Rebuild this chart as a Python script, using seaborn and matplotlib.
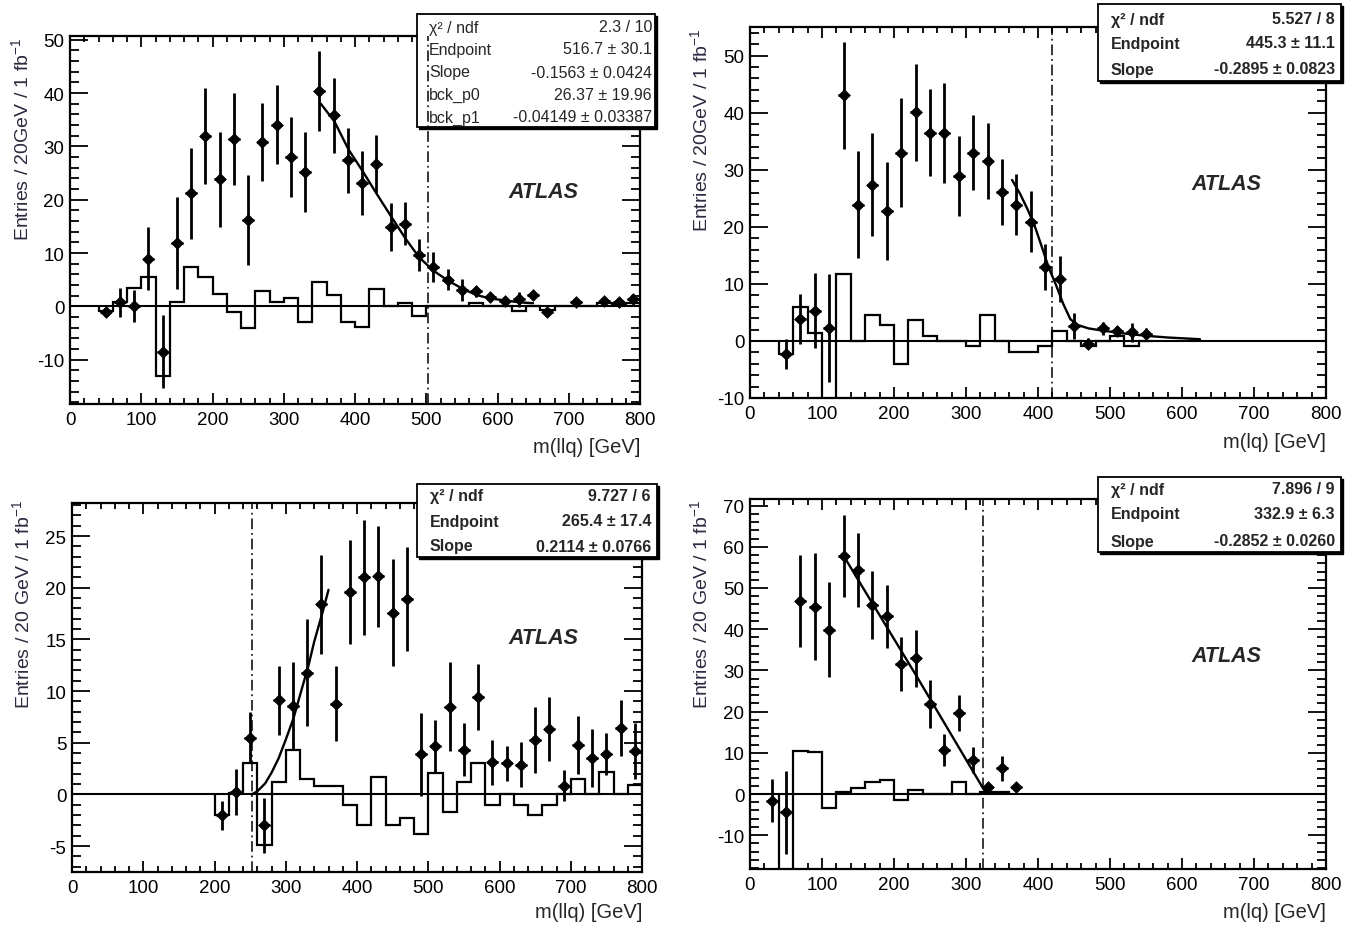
import numpy as np
import matplotlib
matplotlib.use("Agg")
import matplotlib.pyplot as plt
from matplotlib.ticker import MultipleLocator
from matplotlib.patches import Rectangle
import seaborn as sns

# ---- top left: m(llq) ----
p1_x = [50, 70, 90, 110, 130, 150, 170, 190, 210, 230, 250, 270, 290, 310, 330, 350, 370, 390,
        410, 430, 450, 470, 490, 510, 530, 550, 570, 590, 610, 630, 650, 670, 710, 750, 770, 790]
p1_y = [-1.0, 0.8, 0.0, 8.9, -8.5, 11.9, 21.2, 32.0, 23.8, 31.4, 16.2, 30.8, 34.1, 28.1, 25.2, 40.4,
        35.8, 27.4, 23.2, 26.7, 14.9, 15.5, 9.7, 7.4, 5.0, 3.1, 2.8, 1.7, 1.1, 1.3, 2.1, -1.1, 0.9,
        1.0, 0.9, 1.4]
p1_err = [0.8, 2.7, 3.0, 5.9, 6.8, 8.7, 8.5, 9.0, 8.9, 8.6, 8.5, 7.3, 7.4, 7.5, 7.5, 7.5, 7.1, 6.1,
          6.0, 5.5, 4.5, 4.0, 3.0, 2.8, 2.0, 2.0, 1.1, 0.6, 0.5, 1.4, 0.8, 0.5, 0.5, 0.5, 0.5, 0.7]
p1_hist_lo = 40
p1_hist = [-0.8, 0.8, 3.4, 5.6, -13.0, 0.8, 7.3, 5.6, 2.4, -1.0, -4.0, 2.8, 0.8, 1.6, -3.0, 4.6,
           2.2, -2.9, -3.9, 3.3, 0.0, 0.7, -1.8, 0.0, 0.0, 0.0, 0.7, 0.0, 0.0, -0.9, 0.0, -0.7,
           0.0, 0.0, 0.0, 0.6, 0.4, 0.6]
p1_fit_x = [352, 371, 391, 411, 430, 451, 471, 490, 510, 531, 551, 571, 590, 611, 632, 650]
p1_fit_y = [38.0, 34.7, 29.4, 25.3, 21.2, 16.8, 12.7, 9.2, 6.7, 4.8, 3.3, 2.1, 1.5, 1.1, 0.75, 0.6]
p1_end = 502
p1_stats = [("χ² / ndf", "2.3 / 10"), ("Endpoint", "516.7 ± 30.1"),
            ("Slope", "-0.1563 ± 0.0424"), ("bck_p0", "26.37 ± 19.96"),
            ("bck_p1", "-0.04149 ± 0.03387")]

# ---- top right: m(lq) ----
p2_x = [50, 70, 90, 110, 130, 150, 170, 190, 210, 230, 250, 270, 290, 310, 330, 350, 370, 390,
        410, 430, 450, 470, 490, 510, 530, 550]
p2_y = [-2.3, 3.8, 5.3, 2.3, 43.0, 23.9, 27.4, 22.8, 33.0, 40.1, 36.5, 36.4, 28.9, 33.0, 31.5,
        26.1, 23.9, 20.9, 12.9, 10.8, 2.6, -0.5, 2.2, 1.75, 1.5, 1.3]
p2_err = [2.6, 4.4, 6.6, 9.5, 9.4, 9.3, 9.0, 8.6, 9.6, 8.5, 7.6, 8.8, 7.0, 6.5, 6.7, 5.8, 5.3, 5.4,
          4.0, 4.0, 2.3, 1.0, 1.2, 0.9, 1.7, 1.0]
p2_hist_lo = 40
p2_hist = [-2.3, 6.0, 1.4, -15.0, 11.7, 0.0, 4.6, 2.8, -4.1, 3.7, 0.8, 0.0, 0.0, -0.9, 4.5, 0.0,
           -2.0, -2.0, -0.9, 1.75, 0.0, -0.9, 0.0, 0.8, -0.9, 0.0]
p2_fit_x = [364, 375, 385, 395, 405, 415, 425, 435, 445, 455, 470, 490, 520, 550, 580, 625]
p2_fit_y = [28.2, 25.8, 23.2, 20.3, 16.6, 12.8, 9.8, 6.5, 3.8, 2.8, 2.2, 1.8, 1.3, 0.9, 0.6, 0.3]
p2_end = 420
p2_stats = [("χ² / ndf", "5.527 / 8"), ("Endpoint", "445.3 ± 11.1"),
            ("Slope", "-0.2895 ± 0.0823")]

# ---- bottom left: m(llq) threshold ----
p3_x = [210, 230, 250, 270, 290, 310, 330, 350, 370, 390, 410, 430, 450, 470, 490, 510, 530, 550,
        570, 590, 610, 630, 650, 670, 690, 710, 730, 750, 770, 790]
p3_y = [-2.0, 0.26, 5.5, -3.0, 9.1, 8.6, 11.8, 18.4, 8.8, 19.6, 21.0, 21.1, 17.6, 18.9, 3.9, 4.7,
        8.5, 4.35, 9.4, 3.1, 3.0, 2.9, 5.3, 6.3, 0.84, 4.8, 3.5, 3.9, 6.4, 4.2]
p3_err = [1.4, 2.2, 2.5, 2.7, 3.3, 4.2, 5.2, 4.8, 3.6, 5.0, 5.6, 4.9, 5.2, 5.0, 4.0, 2.5, 4.3, 2.6,
          3.2, 2.2, 1.7, 2.2, 3.2, 3.1, 1.5, 2.8, 2.8, 2.0, 2.7, 2.7]
p3_hist_lo = 200
p3_hist = [-2.0, 0.1, 3.0, -4.9, 1.2, 4.3, 1.45, 0.8, 0.8, -1.0, -3.0, 1.7, -3.0, -2.3, -3.8, 2.1,
           -1.7, 1.2, 3.0, -1.0, 0.0, -1.0, -2.0, -1.0, 0.0, 1.5, 0.0, 2.2, 0.0, 0.9]
p3_fit_x = [252, 260, 271, 280, 290, 300, 311, 320, 332, 340, 352, 360]
p3_fit_y = [0.0, 0.3, 1.06, 2.1, 3.5, 5.3, 7.4, 9.6, 12.5, 14.8, 17.7, 19.8]
p3_end = 252
p3_stats = [("χ² / ndf", "9.727 / 6"), ("Endpoint", "265.4 ± 17.4"),
            ("Slope", "0.2114 ± 0.0766")]

# ---- bottom right: m(lq) ----
p4_x = [30, 50, 70, 90, 110, 130, 150, 170, 190, 210, 230, 250, 270, 290, 310, 330, 350, 370]
p4_y = [-1.6, -4.45, 46.9, 45.5, 39.9, 57.8, 54.4, 45.9, 43.1, 31.6, 32.9, 21.8, 10.7, 19.6, 8.25,
        1.6, 6.2, 1.8]
p4_err = [5.3, 10.0, 11.2, 12.9, 11.5, 9.9, 8.9, 8.3, 7.7, 6.6, 6.9, 5.8, 3.8, 4.4, 3.2, 1.0, 3.0, 1.0]
p4_hist_lo = 40
p4_hist = [-25.0, 10.5, 10.1, -3.3, 0.6, 1.4, 2.8, 3.4, -1.4, 1.0, 0.0, 0.0, 2.8, 0.0, 0.4, 0.4]
p4_fit_x = [130, 230, 325, 340]
p4_fit_y = [57.8, 29.0, 1.0, 0.2]
p4_end = 324
p4_stats = [("χ² / ndf", "7.896 / 9"), ("Endpoint", "332.9 ± 6.3"),
            ("Slope", "-0.2852 ± 0.0260")]

sns.set_theme(style="ticks")
plt.rcParams['font.family'] = ['Liberation Sans', 'DejaVu Sans']
plt.rcParams['axes.unicode_minus'] = False
plt.rcParams['mathtext.fontset'] = 'custom'
plt.rcParams['mathtext.rm'] = 'Liberation Sans'

W, H = 1349, 929
fig = plt.figure(figsize=(W / 100, H / 100), dpi=100)
fig.patch.set_facecolor('white')


def fx(x):
    return x / W


def fy(y):
    return 1 - y / H


def panel(box, xs, ys, errs, hlo, hvals, fitx, fity, endpt, ylim, ymaj, ymin):
    l, t, r, b = box
    ax = fig.add_axes([fx(l), fy(b), (r - l) / W, (b - t) / H])
    ax.set_facecolor('white')
    edges = np.arange(hlo, hlo + 20 * (len(hvals) + 1), 20)
    ax.stairs(hvals, edges, baseline=0, color='black', lw=1.6, zorder=2)
    ax.axhline(0, color='black', lw=1.5, zorder=2)
    ax.errorbar(xs, ys, yerr=errs, xerr=8, fmt='none', ecolor='black', elinewidth=2.0,
                capsize=0, zorder=4)
    sns.scatterplot(x=xs, y=ys, ax=ax, marker='D', s=36, color='black', edgecolor='black',
                    zorder=5, legend=False)
    sns.lineplot(x=fitx, y=fity, ax=ax, color='black', lw=1.7, errorbar=None, zorder=4)
    ax.axvline(endpt, color='black', lw=1.1, linestyle=(0, (7, 2.5, 1.2, 2.5)), zorder=6)
    ax.set_xlim(0, 800)
    ax.set_ylim(*ylim)
    ax.xaxis.set_major_locator(MultipleLocator(100))
    ax.xaxis.set_minor_locator(MultipleLocator(20))
    ax.yaxis.set_major_locator(MultipleLocator(ymaj))
    ax.yaxis.set_minor_locator(MultipleLocator(ymin))
    ax.tick_params(which='both', direction='in', top=True, right=True, color='black',
                   labelcolor='black', labelsize=13.5)
    ax.tick_params(axis='y', which='major', length=13, width=1.3, pad=4)
    ax.tick_params(axis='y', which='minor', length=6.5, width=1.3)
    ax.tick_params(axis='x', which='major', length=8, width=1.3, pad=5)
    ax.tick_params(axis='x', which='minor', length=4, width=1.3)
    for s in ax.spines.values():
        s.set_linewidth(1.6)
        s.set_color('black')
    ax.set_xlabel('')
    ax.set_ylabel('')
    return ax


def statbox(ax, l, t, r, b, rows, ycent, bold, size, tl, tr):
    ax.add_patch(Rectangle((fx(l + 2), fy(b + 2)), (r - l) / W, (b - t) / H,
                           transform=fig.transFigure, clip_on=False, fc='black', ec='black',
                           lw=1.0, zorder=3))
    ax.add_patch(Rectangle((fx(l), fy(b)), (r - l) / W, (b - t) / H,
                           transform=fig.transFigure, clip_on=False, fc='white', ec='black',
                           lw=1.3, zorder=3.1))
    w = 'bold' if bold else 'normal'
    for (k, v), yc in zip(rows, ycent):
        ax.text(fx(tl), fy(yc), k, transform=fig.transFigure, ha='left', va='center',
                fontsize=size, fontweight=w, zorder=7)
        ax.text(fx(tr), fy(yc), v, transform=fig.transFigure, ha='right', va='center',
                fontsize=size, fontweight=w, zorder=7)


ylab_col = '#2a2a40'

ax1 = panel((70, 37, 640, 405), p1_x, p1_y, p1_err, p1_hist_lo, p1_hist, p1_fit_x, p1_fit_y,
            p1_end, (-18.3, 50.7), 10, 2)
statbox(ax1, 417, 15, 655, 128, p1_stats, [28, 50, 73, 95, 118], False, 11.5, 429, 652)
fig.text(fx(543), fy(193), 'ATLAS', fontsize=15.5, fontweight='bold', style='italic',
         ha='center', va='center')
fig.text(fx(22), fy(38), 'Entries / 20GeV / 1 fb$^{-1}$', rotation=90, ha='center', va='top',
         fontsize=14, color=ylab_col)
fig.text(fx(640), fy(448), 'm(llq) [GeV]', ha='right', va='center', fontsize=14.5)

ax2 = panel((750, 28, 1326, 399), p2_x, p2_y, p2_err, p2_hist_lo, p2_hist, p2_fit_x, p2_fit_y,
            p2_end, (-10, 55), 10, 2)
statbox(ax2, 1098, 5, 1341, 82, p2_stats, [20, 44, 70], True, 11.5, 1111, 1335)
fig.text(fx(1226), fy(184), 'ATLAS', fontsize=15.5, fontweight='bold', style='italic',
         ha='center', va='center')
fig.text(fx(701), fy(29), 'Entries / 20GeV / 1 fb$^{-1}$', rotation=90, ha='center', va='top',
         fontsize=14, color=ylab_col)
fig.text(fx(1326), fy(443), 'm(lq) [GeV]', ha='right', va='center', fontsize=14.5)

ax3 = panel((72, 504, 642, 873), p3_x, p3_y, p3_err, p3_hist_lo, p3_hist, p3_fit_x, p3_fit_y,
            p3_end, (-7.5, 28.2), 5, 1)
statbox(ax3, 417, 485, 657, 558, p3_stats, [497, 522, 547], True, 11.5, 430, 651)
fig.text(fx(543), fy(638), 'ATLAS', fontsize=15.5, fontweight='bold', style='italic',
         ha='center', va='center')
fig.text(fx(23), fy(500), 'Entries / 20 GeV / 1 fb$^{-1}$', rotation=90, ha='center', va='top',
         fontsize=14, color=ylab_col)
fig.text(fx(642), fy(913), 'm(llq) [GeV]', ha='right', va='center', fontsize=14.5)

ax4 = panel((750, 500, 1326, 870), p4_x, p4_y, p4_err, p4_hist_lo, p4_hist, p4_fit_x, p4_fit_y,
            p4_end, (-18.2, 71.6), 10, 2)
statbox(ax4, 1098, 478, 1341, 553, p4_stats, [490, 515, 542], True, 11.5, 1111, 1335)
fig.text(fx(1226), fy(657), 'ATLAS', fontsize=15.5, fontweight='bold', style='italic',
         ha='center', va='center')
fig.text(fx(701), fy(500), 'Entries / 20 GeV / 1 fb$^{-1}$', rotation=90, ha='center', va='top',
         fontsize=14, color=ylab_col)
fig.text(fx(1326), fy(913), 'm(lq) [GeV]', ha='right', va='center', fontsize=14.5)

fig.savefig('out.png', dpi=100, facecolor='white')
